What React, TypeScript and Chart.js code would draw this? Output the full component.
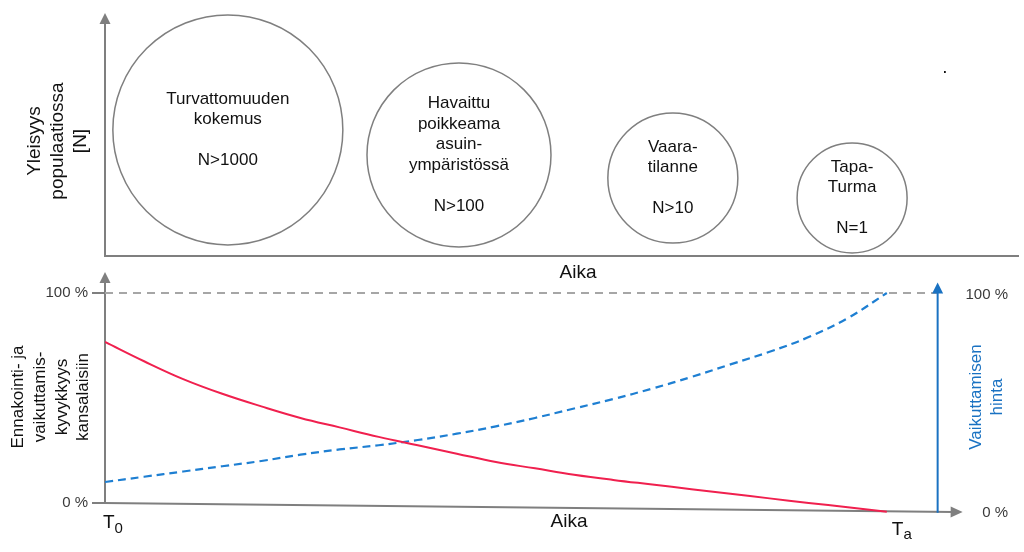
import React, { useEffect, useRef } from "react";
import { Chart, registerables } from "chart.js";

Chart.register(...registerables);

const FONT = '"Liberation Sans", Arial, Helvetica, sans-serif';

// ---------- Top panel: events over time, sized by frequency ----------
const eventNames = [
  ["Turvattomuuden", "kokemus", "", "N>1000"],
  ["Havaittu", "poikkeama", "asuin-", "ympäristössä", "", "N>100"],
  ["Vaara-", "tilanne", "", "N>10"],
  ["Tapa-", "Turma", "", "N=1"],
];
const eventTime = [13.5, 38.9, 62.4, 82.1];
const eventFrequency = [51.9, 41.6, 32.1, 23.9];
const eventRadius = [115, 92, 65, 55];
const frequencyTitle = ["Yleisyys", "populaatiossa", "[N]"];
const timeTitle = "Aika";

// ---------- Bottom panel: capability vs. cost over time ----------
const timeSteps = [0, 5, 10, 15, 20, 25, 30, 35, 40, 45, 50, 55, 60, 65, 70, 75, 80, 85, 90, 95, 100];
const capability = [76.7, 67.5, 59, 52, 46, 40.5, 36, 31.5, 27.5, 23.5, 19.5, 16.5, 13.5, 11, 8.8, 6.6, 4.4, 2.2, 0, -2, -4.2];
const cost = [10, 12.5, 15, 17.5, 20, 23, 25.5, 27.5, 30, 33, 36.5, 40.5, 45, 49.5, 54.5, 60, 66, 72, 79, 88, 100];
const capabilityTitle = ["Ennakointi- ja", "vaikuttamis-", "kyvykkyys", "kansalaisiin"];
const costTitle = ["Vaikuttamisen", "hinta"];
const percentTicks = [0, 100];
const referenceLevel = 100;
const referenceEnd = 106.5;
const costArrowTime = 106.5;
const costArrowTop = 105;
const axisEndTime = 109.7;
const axisEndLevel = -4.3;
const startLabel = ["T", "0"];
const endLabel = ["T", "a"];

const GRAY = "#7f7f7f";
const RED = "#f0204e";
const BLUE = "#1e7fd2";
const BLUE_DARK = "#1a72c2";

function arrowHead(ctx: CanvasRenderingContext2D, tx: number, ty: number, dx: number, dy: number, len: number, half: number, color: string) {
  const bx = tx - dx * len;
  const by = ty - dy * len;
  const px = -dy;
  const py = dx;
  ctx.beginPath();
  ctx.moveTo(tx, ty);
  ctx.lineTo(bx + px * half, by + py * half);
  ctx.lineTo(bx - px * half, by - py * half);
  ctx.closePath();
  ctx.fillStyle = color;
  ctx.fill();
}

function rotatedLines(ctx: CanvasRenderingContext2D, lines: string[], cx: number, cy: number, lineH: number, size: number, color: string) {
  ctx.save();
  ctx.translate(cx, cy);
  ctx.rotate(-Math.PI / 2);
  ctx.font = `${size}px ${FONT}`;
  ctx.fillStyle = color;
  ctx.textAlign = "center";
  ctx.textBaseline = "middle";
  const n = lines.length;
  lines.forEach((l, i) => ctx.fillText(l, 0, (i - (n - 1) / 2) * lineH));
  ctx.restore();
}

const topPlugin = {
  id: "topDecor",
  beforeDatasetsDraw(chart: any) {
    const { ctx, chartArea } = chart;
    const x0 = chartArea.left;
    const y0 = chartArea.bottom;
    ctx.save();
    ctx.strokeStyle = GRAY;
    ctx.lineWidth = 2;
    ctx.beginPath();
    ctx.moveTo(x0, y0);
    ctx.lineTo(x0, chartArea.top + 9);
    ctx.moveTo(x0 - 1, y0);
    ctx.lineTo(chartArea.right + 4, y0);
    ctx.stroke();
    arrowHead(ctx, x0, chartArea.top, 0, -1, 11, 5.5, GRAY);
    ctx.restore();
  },
  afterDatasetsDraw(chart: any) {
    const { ctx, chartArea } = chart;
    const meta = chart.getDatasetMeta(0);
    ctx.save();
    ctx.font = `17px ${FONT}`;
    ctx.fillStyle = "#111";
    ctx.textAlign = "center";
    ctx.textBaseline = "middle";
    meta.data.forEach((el: any, i: number) => {
      const lines = eventNames[i];
      const lh = 20.5;
      const start = el.y - ((lines.length - 1) / 2) * lh;
      lines.forEach((l, j) => ctx.fillText(l, el.x, start + j * lh));
    });
    ctx.font = `19px ${FONT}`;
    ctx.fillText(timeTitle, (chartArea.left + chartArea.right) / 2 + 18, chartArea.bottom + 17);
    ctx.fillText(".", 945, 68);
    ctx.restore();
    rotatedLines(ctx, frequencyTitle, 58, 141, 23, 19, "#111");
  },
};

const bottomPlugin = {
  id: "bottomDecor",
  beforeDatasetsDraw(chart: any) {
    const { ctx, chartArea, scales } = chart;
    const xs = scales.x;
    const ys = scales.y;
    const x0 = xs.getPixelForValue(0);
    const y0 = ys.getPixelForValue(0);
    ctx.save();
    ctx.strokeStyle = GRAY;
    ctx.lineWidth = 2;
    ctx.beginPath();
    ctx.moveTo(x0, y0 + 1);
    ctx.lineTo(x0, chartArea.top + 9);
    ctx.stroke();
    arrowHead(ctx, x0, chartArea.top, 0, -1, 11, 5.5, GRAY);
    const tx = xs.getPixelForValue(axisEndTime);
    const ty = ys.getPixelForValue(axisEndLevel);
    const len = Math.hypot(tx - x0, ty - y0);
    const dx = (tx - x0) / len;
    const dy = (ty - y0) / len;
    ctx.beginPath();
    ctx.moveTo(x0 - 1, y0);
    ctx.lineTo(tx - dx * 9, ty - dy * 9);
    ctx.stroke();
    arrowHead(ctx, tx, ty, dx, dy, 12, 5.5, GRAY);
    ctx.restore();
  },
  afterDatasetsDraw(chart: any) {
    const { ctx, scales } = chart;
    const xs = scales.x;
    const ys = scales.y;
    const ax = xs.getPixelForValue(costArrowTime);
    const abot = ys.getPixelForValue((axisEndLevel * costArrowTime) / axisEndTime);
    const atop = ys.getPixelForValue(costArrowTop);
    ctx.save();
    ctx.strokeStyle = BLUE_DARK;
    ctx.lineWidth = 2;
    ctx.beginPath();
    ctx.moveTo(ax, abot + 1);
    ctx.lineTo(ax, atop + 8);
    ctx.stroke();
    arrowHead(ctx, ax, atop, 0, -1, 11, 5.5, BLUE_DARK);

    ctx.fillStyle = "#111";
    ctx.textAlign = "left";
    ctx.textBaseline = "alphabetic";
    const t0x = xs.getPixelForValue(0);
    ctx.font = `19px ${FONT}`;
    ctx.fillText(startLabel[0], t0x - 2, 528);
    const tw = ctx.measureText(startLabel[0]).width;
    ctx.font = `15px ${FONT}`;
    ctx.fillText(startLabel[1], t0x - 2 + tw, 533);
    const tax = xs.getPixelForValue(100);
    ctx.font = `19px ${FONT}`;
    ctx.fillText(endLabel[0], tax + 5, 535);
    const tw2 = ctx.measureText(endLabel[0]).width;
    ctx.font = `15px ${FONT}`;
    ctx.fillText(endLabel[1], tax + 5 + tw2, 539);

    ctx.font = `19px ${FONT}`;
    ctx.textAlign = "center";
    ctx.textBaseline = "middle";
    ctx.fillText(timeTitle, 569, 522);
    ctx.restore();

    const midY = ys.getPixelForValue(50) - 1;
    rotatedLines(ctx, capabilityTitle, 51, midY, 21.7, 17, "#111");
    rotatedLines(ctx, costTitle, 986.5, midY, 21, 17, BLUE_DARK);
  },
};

export default function App() {
  const topRef = useRef<HTMLCanvasElement>(null);
  const botRef = useRef<HTMLCanvasElement>(null);

  useEffect(() => {
    const topChart = new Chart(topRef.current as HTMLCanvasElement, {
      type: "bubble",
      data: {
        datasets: [
          {
            data: eventTime.map((t, i) => ({ x: t, y: eventFrequency[i], r: eventRadius[i] })),
            backgroundColor: "rgba(255,255,255,0)",
            borderColor: GRAY,
            borderWidth: 1.5,
            clip: false,
          } as any,
        ],
      },
      options: {
        animation: false,
        responsive: false,
        maintainAspectRatio: false,
        events: [],
        layout: { autoPadding: false, padding: { top: 13, left: 105, right: 9, bottom: 296 } },
        plugins: { legend: { display: false }, tooltip: { enabled: false } },
        scales: {
          x: { type: "linear", min: 0, max: 100, display: false },
          y: { type: "linear", min: 0, max: 100, display: false },
        },
      } as any,
      plugins: [topPlugin],
    });

    const tickFont = { size: 15, family: FONT };
    const botChart = new Chart(botRef.current as HTMLCanvasElement, {
      type: "line",
      data: {
        datasets: [
          {
            data: [
              { x: 0, y: referenceLevel },
              { x: referenceEnd, y: referenceLevel },
            ],
            borderColor: "#a6a6a6",
            borderWidth: 2,
            borderDash: [8, 6],
            pointRadius: 0,
            order: 3,
          },
          {
            data: timeSteps.map((t, i) => ({ x: t, y: cost[i] })),
            borderColor: BLUE,
            borderWidth: 2.2,
            borderDash: [8, 5],
            pointRadius: 0,
            tension: 0.4,
            order: 2,
          },
          {
            data: timeSteps.map((t, i) => ({ x: t, y: capability[i] })),
            borderColor: RED,
            borderWidth: 2,
            pointRadius: 0,
            tension: 0.4,
            order: 1,
          },
        ] as any,
      },
      options: {
        animation: false,
        responsive: false,
        maintainAspectRatio: false,
        events: [],
        layout: { autoPadding: false, padding: { top: 272, bottom: 17.5, left: 0, right: 16 } },
        plugins: { legend: { display: false }, tooltip: { enabled: false } },
        scales: {
          x: { type: "linear", min: 0, max: 110, display: false },
          y: {
            type: "linear",
            position: "left",
            min: -15,
            max: 110,
            afterFit: (s: any) => {
              s.width = 105;
            },
            afterBuildTicks: (s: any) => {
              s.ticks = percentTicks.map((v) => ({ value: v }));
            },
            border: { display: false },
            grid: { drawOnChartArea: false, drawTicks: true, tickLength: 13, color: GRAY, lineWidth: 2 },
            ticks: { callback: (v: any) => `${v} %`, font: tickFont, color: "#3a3a3a", padding: 4 },
          },
          y2: {
            type: "linear",
            position: "right",
            min: -10.1,
            max: 110.6,
            afterFit: (s: any) => {
              s.width = 43;
            },
            afterBuildTicks: (s: any) => {
              s.ticks = percentTicks.map((v) => ({ value: v }));
            },
            border: { display: false },
            grid: { display: false },
            ticks: { callback: (v: any) => `${v} %`, font: tickFont, color: "#3a3a3a", crossAlign: "far" },
          },
        } as any,
      } as any,
      plugins: [bottomPlugin],
    });

    return () => {
      topChart.destroy();
      botChart.destroy();
    };
  }, []);

  return (
    <div style={{ position: "fixed", left: 0, top: 0, width: 1024, height: 552, background: "#fff" }}>
      <canvas ref={topRef} width={1024} height={552} style={{ position: "absolute", left: 0, top: 0 }} />
      <canvas ref={botRef} width={1024} height={552} style={{ position: "absolute", left: 0, top: 0 }} />
    </div>
  );
}
